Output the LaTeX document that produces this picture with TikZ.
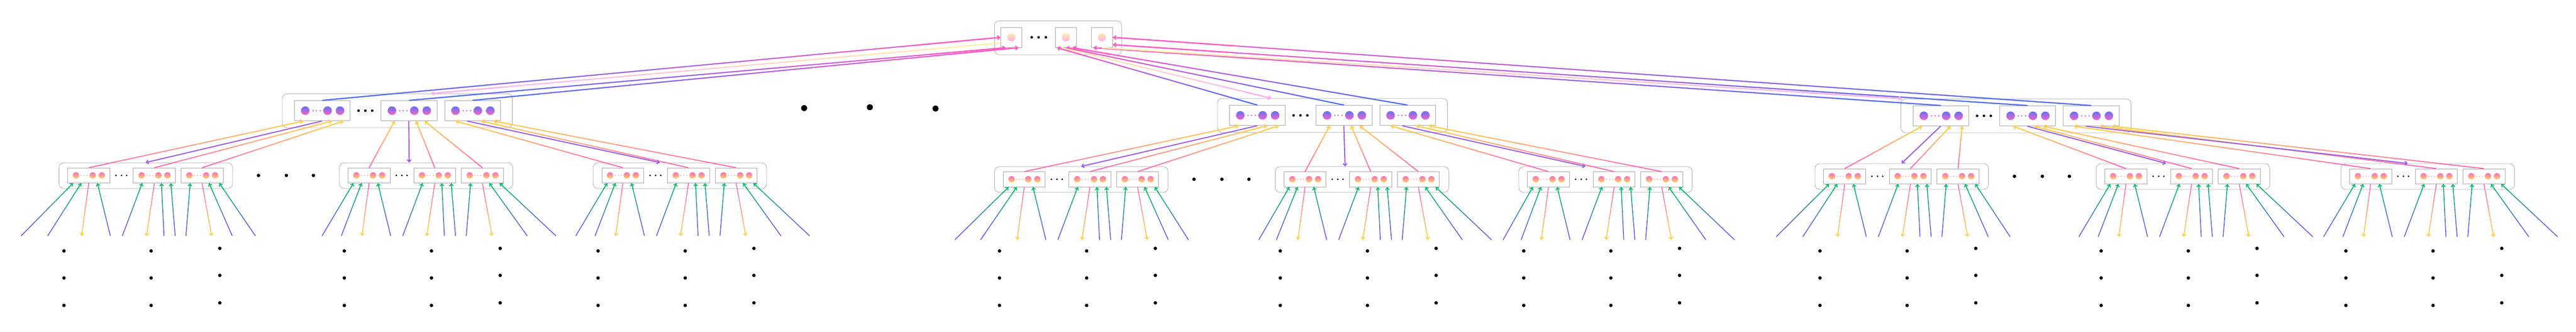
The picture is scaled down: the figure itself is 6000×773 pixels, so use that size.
\documentclass[tikz,border=0pt]{standalone}
\usepackage{tikz}
\usetikzlibrary{arrows.meta,calc}

\definecolor{tyel}{HTML}{FFEFA6}
\definecolor{tpink}{HTML}{FFAEF0}
\definecolor{mblue}{HTML}{6670F5}
\definecolor{mpink}{HTML}{F565C8}
\definecolor{mdot}{HTML}{B36CF0}
\definecolor{lpink}{HTML}{FF6EB4}
\definecolor{lyel}{HTML}{FFD66B}
\definecolor{ldot}{HTML}{FF9A8A}
\definecolor{warm}{HTML}{FFCF4F}
\definecolor{upblue}{HTML}{4F6BF5}
\definecolor{upmag}{HTML}{FF5CC4}
\definecolor{dnpurple}{HTML}{9B5DE5}
\definecolor{leafpurple}{HTML}{7B52F2}
\definecolor{leafgreen}{HTML}{00B86B}

% gradient connector: style, from, to, start colour, end colour
\newcommand{\gline}[5]{%
  \path #2 coordinate (ga) #3 coordinate (gb);
  \foreach \gs in {0,...,7}{
    \pgfmathtruncatemacro{\mix}{100-\gs*100/7}
    \draw[#1, draw=#4!\mix!#5] ($(ga)!{\gs/8}!(gb)$) -- ($(ga)!{(\gs+1)/8}!(gb)$);
  }
  \draw[#1, draw=#5, arr] ($(ga)!0.875!(gb)$) -- (gb);
}

\begin{document}
\begin{tikzpicture}[x=0.1mm, y=-0.1mm]

\tikzstyle{grp} = [draw=gray!65, line width=0.3pt, rounded corners=1.1mm, inner sep=0, anchor=north west]
\tikzstyle{cel} = [draw=gray!70, line width=0.35pt, fill=white, inner sep=0, anchor=north west]
\tikzstyle{dot} = [circle, fill=black, inner sep=0]
\tikzstyle{ball} = [circle, inner sep=0]
\tikzstyle{arr} = [-{Straight Barb[length=0.5mm,width=0.9mm]}]
\tikzstyle{leafline} = [line width=0.2mm]
\tikzstyle{midline} = [line width=0.25mm]
\tikzstyle{upline} = [line width=0.28mm]
\tikzstyle{paleline} = [line width=0.28mm]
\tikzstyle{downline} = [line width=0.25mm, draw=dnpurple, arr]

\useasboundingbox (0,0) rectangle (6000,773);

% top
\node[grp, minimum width=29.6mm, minimum height=7.9mm] (top) at (2316,48) {};
\foreach \j/\dx in {1/14,2/141,3/225}{
  \node[cel, minimum width=5mm, minimum height=4.7mm] (t\j) at (2316+\dx,63) {};
  \node[ball, minimum size=1.9mm, top color=tyel, bottom color=tpink] (tb\j) at (t\j) {};
}
\foreach \dx [count=\i] in {87,103,120}
  \node[dot, minimum size=0.6mm] (td\i) at (2316+\dx,87) {};

% middle row
\foreach \k/\x/\y in {1/657/218, 2/2835/229, 3/4427/230}{
  \node[grp, minimum width=53.6mm, minimum height=7.9mm] (m\k) at (\x,\y) {};
  \foreach \j/\dx in {1/28,2/230,3/378}{
    \node[cel, minimum width=13mm, minimum height=4.7mm] (m\k-\j) at (\x+\dx,\y+16) {};
    \foreach \bx [count=\i] in {26,78,107}
      \node[ball, minimum size=2mm, top color=mblue, bottom color=mpink] (m\k-\j b\i) at (\x+\dx+\bx,\y+40) {};
    \foreach \sx [count=\i] in {44,52,61}
      \node[dot, fill=mdot, minimum size=0.36mm] (m\k-\j s\i) at (\x+\dx+\sx,\y+40) {};
  }
  \foreach \dx [count=\i] in {178,194,210}
    \node[dot, minimum size=0.6mm] (m\k d\i) at (\x+\dx,\y+40) {};
}
\node[dot, minimum size=1.4mm] (md1) at (1873,252) {};
\node[dot, minimum size=1.4mm] (md2) at (2026,250) {};
\node[dot, minimum size=1.4mm] (md3) at (2179,253) {};

% lower row
\foreach \k/\j/\x/\y/\ea/\eb/\ey/\ez in {1/1/137/379/-88/-26/404/458, 1/2/790/379/-40/5/438/505, 1/3/1381/379/-40/5/438/505,
                         2/1/2316/388/-92/-32/405/452, 2/2/2970/388/-38/3/436/504, 2/3/3537/388/-36/6/436/503,
                         3/1/4227/381/-90/-28/404/455, 3/2/4882/381/-40/5/438/505, 3/3/5452/381/-40/5/438/505}{
  \node[grp, minimum width=40.4mm, minimum height=6mm] (g\k\j) at (\x,\y) {};
  \foreach \c/\dx in {1/20,2/173,3/284}{
    \node[cel, minimum width=9.8mm, minimum height=3.5mm] (g\k\j-\c) at (\x+\dx,\y+12) {};
    \foreach \bx [count=\i] in {20,59,80}
      \node[ball, minimum size=1.5mm, top color=lpink, bottom color=lyel] (g\k\j-\c b\i) at (\x+\dx+\bx,\y+30) {};
    \foreach \sx [count=\i] in {32,39,46}
      \node[dot, fill=ldot, minimum size=0.26mm] (g\k\j-\c s\i) at (\x+\dx+\sx,\y+30) {};
  }
  \foreach \dx [count=\i] in {133,146,158}
    \node[dot, minimum size=0.4mm] (g\k\j d\i) at (\x+\dx,\y+30) {};
  \foreach \ex [count=\i] in {\ea,\eb,53,120,148,204,245,271,296,356,\ey,\ez}
    \coordinate (g\k\j e\i) at (\x+\ex,\y+171);
  \foreach \cx/\cy [count=\i] in {12/0,215/0,375/-6}
    \foreach \ry [count=\r] in {585,648,712}
      \node[dot, minimum size=0.8mm] (g\k\j v\i\r) at (\x+\cx,\ry+\cy) {};
}
\foreach \k/\x/\y in {1/137/379, 2/2316/388, 3/4227/381}
  \foreach \dx [count=\i] in {465,530,593}
    \node[dot, minimum size=0.8mm] (gap\k\i) at (\x+\dx,\y+30) {};

% leaves
\foreach \g in {g11,g12,g13,g21,g22,g23,g31,g32,g33}{
  \foreach \c/\p/\e in {1/13/1, 1/32/2, 1/70/4, 2/21/5, 2/66/7, 2/88/8, 3/22/9, 3/66/11, 3/90/12}{
    \gline{leafline}{(\g e\e)}{($(\g-\c.south west)+(\p,0)$)}{leafpurple}{leafgreen}
  }
  \foreach \c/\e in {1/3, 2/6, 3/10}{
    \gline{leafline}{(\g-\c.south)}{(\g e\e)}{lpink}{warm}
  }
}

% lower row to middle row
\foreach \k in {1,2,3}{
  \foreach \j/\pa/\pb/\pc/\src/\dst in {1/22/88/115/65/202, 2/32/82/102/65/163, 3/26/86/115/53/156}{
    \foreach \c/\p in {1/\pa, 2/\pb, 3/\pc}{
      \gline{midline}{(g\k\j-\c.north)}{($(m\k-\j.south west)+(\p,0)$)}{lpink}{warm}
    }
    \draw[downline] ($(m\k-\j.south west)+(\src,0)$) -- ($(g\k\j.north west)+(\dst,0)$);
  }
}

% middle row to top
\gline{upline}{(m1-1.north)}{(t1.west)}{upblue}{upmag}
\gline{upline}{(m1-2.north)}{($(t1.south west)+(12,0)$)}{upblue}{upmag}
\gline{upline}{(m1-3.north)}{($(t1.south west)+(42,0)$)}{upblue}{upmag}
\gline{upline}{(m2-1.north)}{($(t2.south west)+(5,0)$)}{upblue}{upmag}
\gline{upline}{(m2-2.north)}{($(t2.south west)+(26,0)$)}{upblue}{upmag}
\gline{upline}{(m2-3.north)}{($(t2.south west)+(41,0)$)}{upblue}{upmag}
\gline{upline}{(m3-1.north)}{($(t3.south west)+(6,0)$)}{upblue}{upmag}
\gline{upline}{(m3-2.north)}{($(t3.east)+(0,17)$)}{upblue}{upmag}
\gline{upline}{(m3-3.north)}{(t3.east)}{upblue}{upmag}

% top to middle row
\gline{paleline}{($(t1.west)+(0,13)$)}{($(m1.north west)+(347,0)$)}{tyel}{tpink}
\gline{paleline}{($(t2.south west)+(15,0)$)}{($(m2.north west)+(126,0)$)}{tyel}{tpink}
\gline{paleline}{(t3.south)}{($(m3.north west)+(3,0)$)}{tyel}{tpink}

\end{tikzpicture}
\end{document}
